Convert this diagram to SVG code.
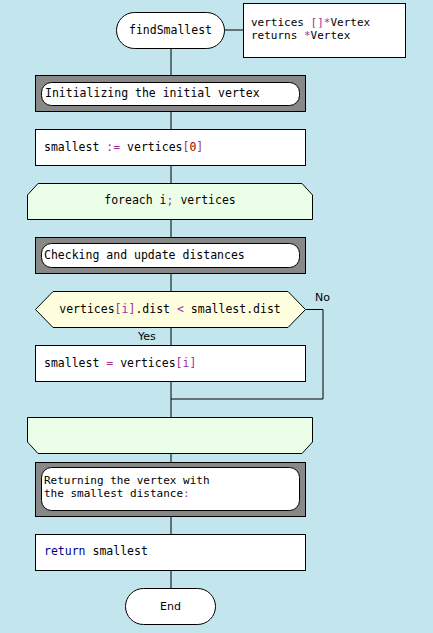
<svg xmlns="http://www.w3.org/2000/svg" width="433" height="633" viewBox="0 0 433 633">
<style>
.bg{fill:#C2E5EE}
.ln{stroke:#000;stroke-width:1;fill:none}
.box{fill:#fff;stroke:#000;stroke-width:1}
.frame{fill:#888;stroke:#000;stroke-width:1}
.inner{fill:#fff;stroke:#000;stroke-width:1}
.loop{fill:#EBFFE8;stroke:#000;stroke-width:1}
.cond{fill:#FFFFE0;stroke:#000;stroke-width:1}
text{font-family:"DejaVu Sans Mono","Liberation Mono",monospace;font-size:11.5px;fill:#000}
.sm{font-size:11px}
.lbl{font-family:"DejaVu Sans","Liberation Sans",sans-serif;font-size:11px}
.op{fill:#A030A0}
.num{fill:#A00000}
.kw{fill:#00008B}
</style>
<rect class="bg" x="0" y="0" width="433" height="633"/>
<g id="connectors">
<line class="ln" x1="171" y1="48" x2="171" y2="588"/>
<line class="ln" x1="224" y1="30" x2="243" y2="30"/>
<polyline class="ln" points="306,309.5 323,309.5 323,399 171,399"/>
</g>
<g id="start">
<rect class="box" x="116.5" y="12.5" width="108" height="36" rx="18" ry="18"/>
<text x="170.5" y="34" text-anchor="middle">findSmallest</text>
</g>
<g id="params">
<rect class="box" x="243.5" y="3.5" width="162" height="54"/>
<text class="sm" x="251" y="26">vertices <tspan class="op">[]*</tspan>Vertex</text>
<text class="sm" x="251" y="39">returns <tspan class="op">*</tspan>Vertex</text>
</g>
<g id="comment1">
<rect class="frame" x="35.5" y="75.5" width="270" height="36"/>
<rect class="inner" x="41.5" y="82.5" width="258" height="23" rx="10" ry="10"/>
<text x="45" y="97">Initializing the initial vertex</text>
</g>
<g id="action1">
<rect class="box" x="35.5" y="129.5" width="270" height="36"/>
<text x="44" y="151">smallest <tspan class="op">:=</tspan> vertices<tspan class="op">[</tspan><tspan class="num">0</tspan><tspan class="op">]</tspan></text>
</g>
<g id="loopStart">
<polygon class="loop" points="27.5,195 38,183.5 302,183.5 312.5,195 312.5,219.5 27.5,219.5"/>
<text x="170" y="204" text-anchor="middle">foreach i<tspan class="op">;</tspan> vertices</text>
</g>
<g id="comment2">
<rect class="frame" x="35.5" y="237.5" width="270" height="36"/>
<rect class="inner" x="41.5" y="243.5" width="258" height="24" rx="10" ry="10"/>
<text x="44" y="259">Checking and update distances</text>
</g>
<g id="condition">
<polygon class="cond" points="35.5,309.5 53,291.5 288,291.5 305.5,309.5 288,327.5 53,327.5"/>
<text x="170" y="313" text-anchor="middle">vertices<tspan class="op">[i]</tspan>.dist <tspan class="op">&lt;</tspan> smallest.dist</text>
<text class="lbl" x="315" y="301">No</text>
<text class="lbl" x="138" y="340">Yes</text>
</g>
<g id="action2">
<rect class="box" x="35.5" y="345.5" width="270" height="36"/>
<text x="44" y="367">smallest <tspan class="op">=</tspan> vertices<tspan class="op">[i]</tspan></text>
</g>
<g id="loopEnd">
<polygon class="loop" points="27.5,417.5 312.5,417.5 312.5,442 302,453.5 38,453.5 27.5,442"/>
</g>
<g id="comment3">
<rect class="frame" x="35.5" y="462.5" width="270" height="54"/>
<rect class="inner" x="41.5" y="467.5" width="258" height="43" rx="10" ry="10"/>
<text class="sm" x="44" y="484">Returning the vertex with</text>
<text class="sm" x="44" y="497">the smallest distance<tspan class="op">:</tspan></text>
</g>
<g id="action3">
<rect class="box" x="35.5" y="534.5" width="270" height="36"/>
<text x="44" y="555"><tspan class="kw">return</tspan> smallest</text>
</g>
<g id="end">
<rect class="box" x="125.5" y="588.5" width="90" height="36" rx="18" ry="18"/>
<text class="lbl" x="170.5" y="610" text-anchor="middle">End</text>
</g>
</svg>
